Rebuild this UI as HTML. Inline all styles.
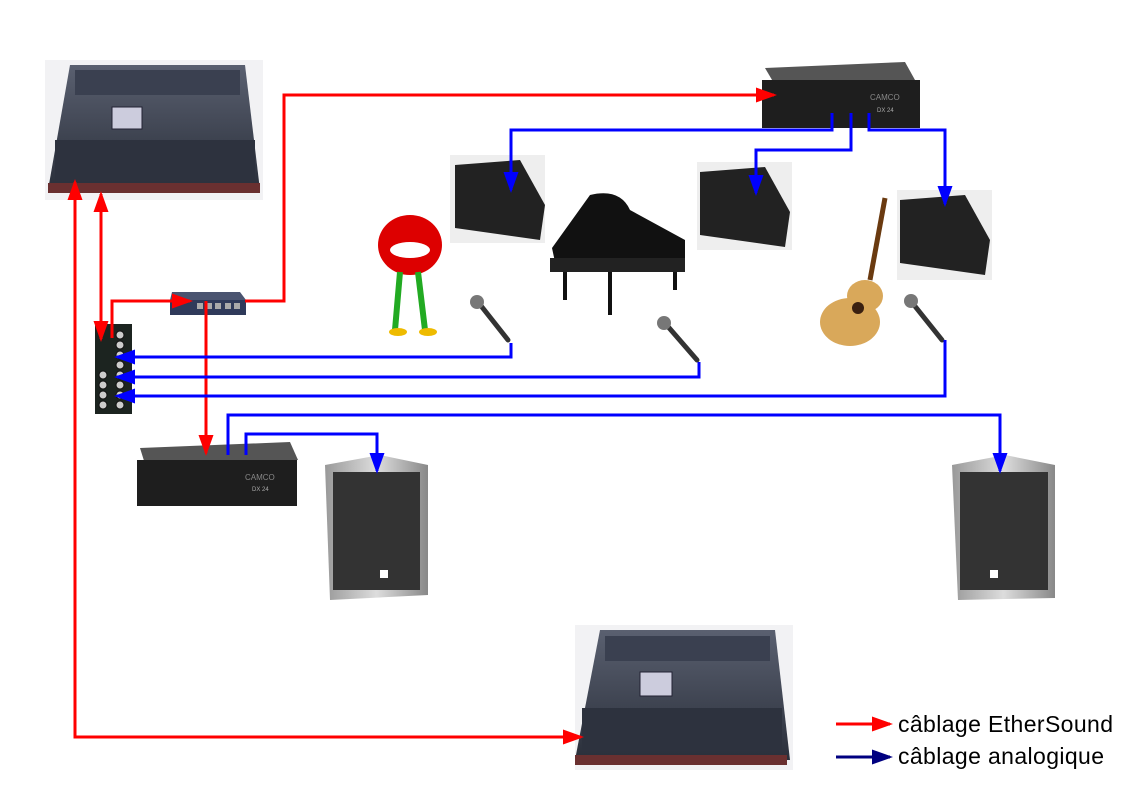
<!DOCTYPE html>
<html><head><meta charset="utf-8"><style>
html,body{margin:0;padding:0;background:#fff;}
svg{display:block;}
</style></head><body>
<svg width="1123" height="794" viewBox="0 0 1123 794" xmlns="http://www.w3.org/2000/svg" font-family="Liberation Sans, sans-serif">
<defs>
<marker id="r" markerWidth="7" markerHeight="5" refX="6" refY="2.5" orient="auto" markerUnits="strokeWidth"><path d="M0,0 L7,2.5 L0,5 z" fill="#f00"/></marker>
<marker id="b" markerWidth="7" markerHeight="5" refX="6" refY="2.5" orient="auto" markerUnits="strokeWidth"><path d="M0,0 L7,2.5 L0,5 z" fill="#00f"/></marker>
<marker id="n" markerWidth="7" markerHeight="5" refX="6" refY="2.5" orient="auto" markerUnits="strokeWidth"><path d="M0,0 L7,2.5 L0,5 z" fill="#000080"/></marker>
<linearGradient id="cons" x1="0" y1="0" x2="0" y2="1"><stop offset="0" stop-color="#5a6070"/><stop offset="1" stop-color="#2a2f3a"/></linearGradient>
<linearGradient id="spk" x1="0" y1="0" x2="1" y2="0"><stop offset="0" stop-color="#999"/><stop offset="0.5" stop-color="#ddd"/><stop offset="1" stop-color="#888"/></linearGradient>
</defs>

<g>
<rect x="45" y="60" width="218" height="140" fill="#f2f2f4"/>
<polygon points="70,65 245,65 260,190 48,190" fill="url(#cons)"/>
<rect x="75" y="70" width="165" height="25" fill="#3a4050"/>
<rect x="112" y="107" width="30" height="22" fill="#ccd" stroke="#223" />
<rect x="55" y="140" width="200" height="40" fill="#2d323e"/>
<rect x="48" y="183" width="212" height="10" fill="#6a3030"/>
</g>
<g>
<rect x="575" y="625" width="218" height="145" fill="#f2f2f4"/>
<polygon points="600,630 775,630 790,760 575,760" fill="url(#cons)"/>
<rect x="605" y="636" width="165" height="25" fill="#3a4050"/>
<rect x="640" y="672" width="32" height="24" fill="#ccd" stroke="#223"/>
<rect x="582" y="708" width="200" height="42" fill="#2d323e"/>
<rect x="575" y="755" width="212" height="10" fill="#6a3030"/>
</g>
<g>
<polygon points="765,68 905,62 915,80 775,85" fill="#555"/>
<rect x="762" y="80" width="158" height="48" fill="#1e1e1e"/>
<text x="870" y="100" font-size="8" fill="#888">CAMCO</text>
<text x="877" y="112" font-size="6" fill="#aaa">DX 24</text>
</g>
<g>
<polygon points="140,448 290,442 298,460 145,464" fill="#555"/>
<rect x="137" y="460" width="160" height="46" fill="#1e1e1e"/>
<text x="245" y="480" font-size="8" fill="#888">CAMCO</text>
<text x="252" y="491" font-size="6" fill="#aaa">DX 24</text>
</g>
<g>
<rect x="450" y="155" width="95" height="88" fill="#eee"/>
<polygon points="455,165 520,160 545,205 540,240 455,228" fill="#222"/>
<rect x="697" y="162" width="95" height="88" fill="#eee"/>
<polygon points="700,172 765,167 790,212 785,247 700,235" fill="#222"/>
<rect x="897" y="190" width="95" height="90" fill="#eee"/>
<polygon points="900,200 965,195 990,240 985,275 900,263" fill="#222"/>
</g>
<g>
<polygon points="325,465 380,455 428,465 428,595 330,600" fill="url(#spk)"/>
<rect x="333" y="472" width="87" height="118" fill="#333"/>
<rect x="380" y="570" width="8" height="8" fill="#fff"/>
<polygon points="952,465 1005,455 1055,465 1055,598 958,600" fill="url(#spk)"/>
<rect x="960" y="472" width="88" height="118" fill="#333"/>
<rect x="990" y="570" width="8" height="8" fill="#fff"/>
</g>
<g>
<polygon points="172,292 240,292 246,300 170,300" fill="#4a5470"/>
<rect x="170" y="300" width="76" height="15" fill="#2f3a5a"/>
<rect x="197" y="303" width="6" height="6" fill="#aaa"/><rect x="206" y="303" width="6" height="6" fill="#aaa"/><rect x="215" y="303" width="6" height="6" fill="#aaa"/><rect x="225" y="303" width="6" height="6" fill="#aaa"/><rect x="234" y="303" width="6" height="6" fill="#aaa"/>
</g>
<g>
<rect x="95" y="324" width="37" height="90" fill="#1c2420"/>
<g fill="#ccc" stroke="#111">
<circle cx="120" cy="335" r="4"/><circle cx="120" cy="345" r="4"/><circle cx="120" cy="355" r="4"/><circle cx="120" cy="365" r="4"/><circle cx="120" cy="375" r="4"/><circle cx="120" cy="385" r="4"/><circle cx="120" cy="395" r="4"/><circle cx="120" cy="405" r="4"/>
<circle cx="103" cy="375" r="4"/><circle cx="103" cy="385" r="4"/><circle cx="103" cy="395" r="4"/><circle cx="103" cy="405" r="4"/>
</g>
</g>
<g>
<ellipse cx="410" cy="245" rx="32" ry="30" fill="#d00"/>
<ellipse cx="410" cy="250" rx="20" ry="8" fill="#fff"/>
<path d="M400,272 L395,330 M418,272 L425,330" stroke="#2a2" stroke-width="6" fill="none"/>
<ellipse cx="398" cy="332" rx="9" ry="4" fill="#eb0"/><ellipse cx="428" cy="332" rx="9" ry="4" fill="#eb0"/>
</g>
<g>
<path d="M590,195 Q620,188 630,210 L685,240 L685,262 L555,262 L552,248 Z" fill="#111"/>
<rect x="550" y="258" width="135" height="14" fill="#222"/>
<path d="M565,272 L565,300 M675,272 L675,290 M610,272 L610,315" stroke="#111" stroke-width="4"/>
</g>
<g>
<ellipse cx="850" cy="322" rx="30" ry="24" fill="#d9a85a"/>
<ellipse cx="865" cy="296" rx="18" ry="16" fill="#d9a85a"/>
<line x1="870" y1="280" x2="885" y2="198" stroke="#6a3a10" stroke-width="5"/>
<circle cx="858" cy="308" r="6" fill="#3a2010"/>
</g>
<g stroke="#333" stroke-width="5" stroke-linecap="round">
<line x1="478" y1="302" x2="508" y2="340"/>
<line x1="664" y1="322" x2="697" y2="360"/>
<line x1="910" y1="300" x2="942" y2="340"/>
</g>
<g fill="#777"><circle cx="477" cy="302" r="7"/><circle cx="664" cy="323" r="7"/><circle cx="911" cy="301" r="7"/></g>

<g stroke="#f00" stroke-width="3" fill="none">
<polyline points="245,301 284,301 284,95 774,95" marker-end="url(#r)"/>
<polyline points="112,338 112,301 190,301" marker-end="url(#r)"/>
<line x1="101" y1="260" x2="101" y2="194" marker-end="url(#r)"/>
<line x1="101" y1="260" x2="101" y2="339" marker-end="url(#r)"/>
<line x1="206" y1="301" x2="206" y2="453" marker-end="url(#r)"/>
<line x1="75" y1="400" x2="75" y2="182" marker-end="url(#r)"/>
<polyline points="75,400 75,737 581,737" marker-end="url(#r)"/>
</g>
<g stroke="#00f" stroke-width="3" fill="none">
<polyline points="511,343 511,357 117,357" marker-end="url(#b)"/>
<polyline points="699,362 699,377 117,377" marker-end="url(#b)"/>
<polyline points="945,340 945,396 117,396" marker-end="url(#b)"/>
<polyline points="228,455 228,415 1000,415 1000,471" marker-end="url(#b)"/>
<polyline points="246,455 246,434 377,434 377,471" marker-end="url(#b)"/>
<polyline points="832,113 832,130 511,130 511,190" marker-end="url(#b)"/>
<polyline points="851,113 851,150 756,150 756,193" marker-end="url(#b)"/>
<polyline points="869,113 869,130 945,130 945,204" marker-end="url(#b)"/>
</g>

<line x1="836" y1="724" x2="890" y2="724" stroke="#f00" stroke-width="3" marker-end="url(#r)"/>
<line x1="836" y1="757" x2="890" y2="757" stroke="#000080" stroke-width="3" marker-end="url(#n)"/>
<text x="898" y="732" font-size="23" fill="#000" textLength="215">câblage EtherSound</text>
<text x="898" y="764" font-size="23" fill="#000" textLength="206">câblage analogique</text>
</svg>
</body></html>
